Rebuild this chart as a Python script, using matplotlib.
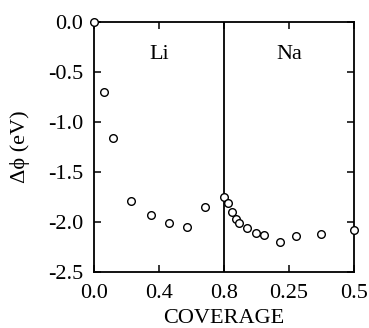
import numpy as np
import matplotlib.pyplot as plt

plt.rcParams["font.family"] = ["Liberation Serif", "DejaVu Serif"]

# Li branch: coverage (0..0.8) and work function change
li_cov = [0.0, 0.062, 0.117, 0.228, 0.349, 0.462, 0.572, 0.683]
li_dphi = [0.0, -0.70, -1.16, -1.79, -1.93, -2.01, -2.05, -1.85]

# Na branch: coverage (0..0.5) on top of 0.8 Li
na_cov = [0.0, 0.017, 0.032, 0.045, 0.059, 0.090, 0.123, 0.154, 0.214, 0.279, 0.373, 0.5]
na_dphi = [-1.75, -1.81, -1.90, -1.97, -2.01, -2.06, -2.11, -2.13, -2.20, -2.14, -2.12, -2.08]

tick_labels = ["0.0", "0.4", "0.8", "0.25", "0.5"]

# Na axis is drawn at 0.25 per 0.4 Li units, starting at 0.8
li_end = 0.8
na_scale = 0.4 / 0.25
na_x = [li_end + c * na_scale for c in na_cov]

fs = 16

fig, ax = plt.subplots(figsize=(3.69, 3.28), dpi=100)
fig.subplots_adjust(left=0.255, right=0.959, top=0.933, bottom=0.171)

ax.plot(li_cov, li_dphi, "o", mfc="white", mec="black", ms=5.5, mew=1.0, clip_on=False, zorder=3)
ax.plot(na_x, na_dphi, "o", mfc="white", mec="black", ms=5.5, mew=1.0, clip_on=False, zorder=3)
ax.axvline(li_end, color="black", lw=1.3)

ax.set_xlim(0, li_end + 0.5 * na_scale)
ax.set_ylim(-2.5, 0.0)
ax.set_xticks([0.0, 0.4, 0.8, li_end + 0.25 * na_scale, li_end + 0.5 * na_scale])
ax.set_xticklabels(tick_labels)
ax.set_yticks([0.0, -0.5, -1.0, -1.5, -2.0, -2.5])
ax.set_yticklabels(["0.0", "-0.5", "-1.0", "-1.5", "-2.0", "-2.5"])
ax.tick_params(direction="in", top=True, right=True, labelsize=fs, length=5, width=1.1)
ax.tick_params(axis="y", pad=8)
ax.tick_params(axis="x", pad=9)
for s in ax.spines.values():
    s.set_linewidth(1.3)

ax.text(0.4, -0.33, "Li", ha="center", va="center", fontsize=fs)
ax.text(1.2, -0.33, "Na", ha="center", va="center", fontsize=fs)

ax.set_xlabel("COVERAGE", fontsize=fs, labelpad=4)
ax.set_ylabel("Δϕ (eV)", fontsize=fs, labelpad=13)

fig.savefig("out.png", dpi=100)
